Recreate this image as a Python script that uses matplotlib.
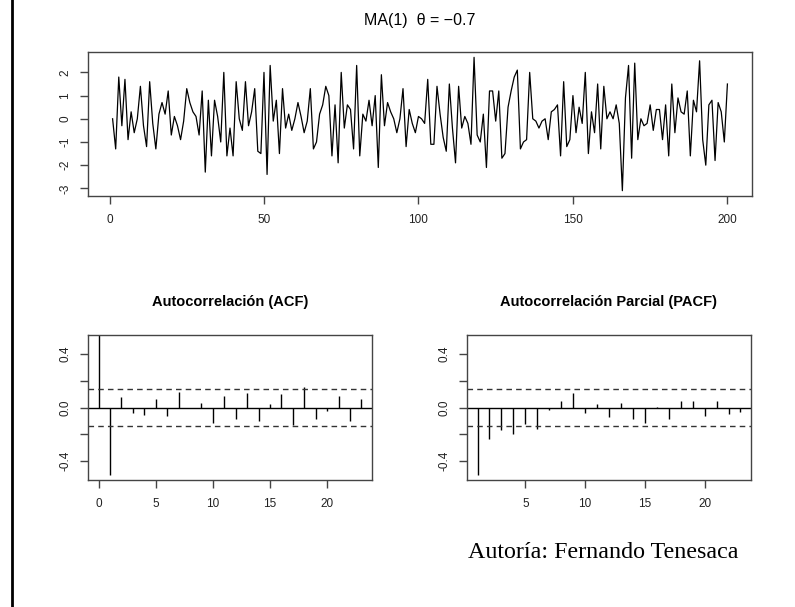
import numpy as np
import matplotlib
matplotlib.use("Agg")
import matplotlib.pyplot as plt
from matplotlib.lines import Line2D

# ---- data ----
series = [
    0.0, -1.3, 1.8, -0.3, 1.7, -0.9, 0.3, -0.6, 0.0, 1.4,
    -0.3, -1.2, 1.6, -0.2, -1.3, 0.2, 0.7, 0.2, 1.2, -0.7,
    0.1, -0.3, -0.9, -0.1, 1.3, 0.7, 0.3, 0.1, -0.7, 1.2,
    -2.3, 0.8, -1.6, 0.8, 0.1, -1.0, 2.0, -1.6, -0.4, -1.6,
    1.6, 0.0,
    -0.5, 1.6, -0.3, 0.3, 1.3, -1.4, -1.5, 2.0, -2.4, 2.3,
    -0.1, 0.8, -1.5, 1.3, -0.4, 0.2, -0.5, 0.0, 0.7, 0.1,
    -0.6, -0.1, 1.3, -1.3, -1.0, 0.2, 0.6, 1.4, 1.0, -1.6,
    0.6, -1.9, 2.0, -0.4, 0.6, 0.4, -1.3, 2.3, -1.6, 0.2,
    -0.1, 0.8, -0.3, 1.0, -2.1, 1.9, -0.3, 0.7, 0.3, 0.0,
    -0.6, 0.0, 1.3, -1.2,
    0.4, -0.2, -0.6, 0.1, 0.0, -0.2, 1.7, -1.1, -1.1, 1.4,
    0.2, -0.8, -1.4, 1.5, -0.4, -1.9, 1.4, -0.4, 0.1, -0.2,
    -1.1, 2.65, -0.7, -1.0, 0.2, -2.1, 1.2, 1.2, -0.1, 1.2,
    -1.7, -1.5, 0.5, 1.2, 1.8, 2.1, -1.3, -1.0, -0.9, 2.0,
    0.0, -0.1, -0.4, -0.1, 0.0, -0.9, 0.3, 0.4, 0.6, -1.6,
    1.6, -1.2, -0.9, 1.0, -0.6,
    0.5, -0.2, 2.0, -1.5, 0.3, -0.6, 1.5, -1.3, 1.4, 0.0,
    0.3, 0.0, 0.6, -0.2, -3.1, 0.9, 2.3, -1.7, 2.4, -0.9,
    0.0, -0.3, -0.2, 0.6, -0.5, 0.4, 0.4, -0.9, 0.6, -1.6,
    1.5, -0.6, 0.9, 0.3, 0.2, 1.2, -1.6, 0.8, 0.3, 2.5,
    -0.9, -2.0, 0.6, 0.8, -1.8, 0.7, 0.3, -1.0, 1.5,
]

acf_lags = list(range(0, 24))
acf_vals = [1.0, -0.50, 0.077, -0.042, -0.055, 0.062, -0.062, 0.112, -0.007, 0.032,
            -0.112, 0.082, -0.087, 0.107, -0.097, 0.025, 0.097, -0.134, 0.149, -0.087,
            -0.025, 0.082, -0.097, 0.067]

pacf_lags = list(range(1, 24))
pacf_vals = [-0.50, -0.236, -0.167, -0.199, -0.122, -0.159, -0.022, 0.045, 0.107, -0.042,
             0.027, -0.072, 0.032, -0.087, -0.117, 0.007, -0.087, 0.052, 0.052, -0.067,
             0.045, -0.047, -0.032]

conf = 1.96 / np.sqrt(200)

title_main = "MA(1)  \u03b8 = \u22120.7"
title_acf = "Autocorrelación (ACF)"
title_pacf = "Autocorrelación Parcial (PACF)"
credit = "Autoría: Fernando Tenesaca"

# ---- style ----
plt.rcParams['font.family'] = ['Liberation Sans', 'DejaVu Sans']
plt.rcParams['axes.unicode_minus'] = False
frame_col = '#444444'
W, H = 795, 607
fig = plt.figure(figsize=(W / 100, H / 100), dpi=100)


def ax_at(l, r, t, b):
    return fig.add_axes([l / W, 1 - b / H, (r - l) / W, (b - t) / H])


def style(ax):
    for s in ax.spines.values():
        s.set_color(frame_col)
        s.set_linewidth(1.0)
    ax.tick_params(direction='out', length=6, width=1, color=frame_col,
                   labelsize=8.5, labelcolor='#222222')
    ax.tick_params(axis='x', pad=7)
    ax.tick_params(axis='y', pad=6)
    for lab in ax.get_yticklabels():
        lab.set_rotation(90)
        lab.set_va('center')


# top series
ax = ax_at(88, 752, 52, 196)
t = np.arange(1, len(series) + 1)
ax.plot(t, series, color='black', lw=0.9)
n = len(series)
pad = 0.04 * (n - 1)
ax.set_xlim(1 - pad, n + pad)
ymin, ymax = min(series), max(series)
yp = 0.04 * (ymax - ymin)
ax.set_ylim(ymin - yp, ymax + yp)
ax.set_xticks([0, 50, 100, 150, 200])
ax.set_yticks([-3, -2, -1, 0, 1, 2])
style(ax)
fig.text(420 / W, 1 - 20 / H, title_main, ha='center', va='center', fontsize=11.5)


def corr_plot(ax, lags, vals, title):
    ax.vlines(lags, 0, vals, color='black', lw=1.0)
    ax.axhline(0, color='black', lw=1.0)
    ax.axhline(conf, color='#333333', lw=1.0, ls=(0, (4, 3)))
    ax.axhline(-conf, color='#333333', lw=1.0, ls=(0, (4, 3)))
    lo, hi = min(lags), max(lags)
    p = 0.04 * (hi - lo)
    ax.set_xlim(lo - p, hi + p)
    ax.set_ylim(-0.54, 0.54)
    ax.set_yticks([-0.4, -0.2, 0.0, 0.2, 0.4])
    ax.set_yticklabels(['-0.4', '', '0.0', '', '0.4'])
    ax.set_xticks([x for x in [0, 5, 10, 15, 20] if x >= lo])
    style(ax)
    ax.set_title(title, fontsize=10.5, fontweight='bold', pad=21)


ax2 = ax_at(88, 372, 335, 480)
corr_plot(ax2, acf_lags, acf_vals, title_acf)
ax3 = ax_at(467, 751, 335, 480)
corr_plot(ax3, pacf_lags, pacf_vals, title_pacf)

fig.text(468 / W, 1 - 552 / H, credit, ha='left', va='center', fontsize=17.3,
         family=['Liberation Serif', 'DejaVu Serif'])

fig.add_artist(Line2D([11.5 / W, 11.5 / W], [0, 1], color='black', lw=2,
                      transform=fig.transFigure))

fig.savefig('out.png', dpi=100)
